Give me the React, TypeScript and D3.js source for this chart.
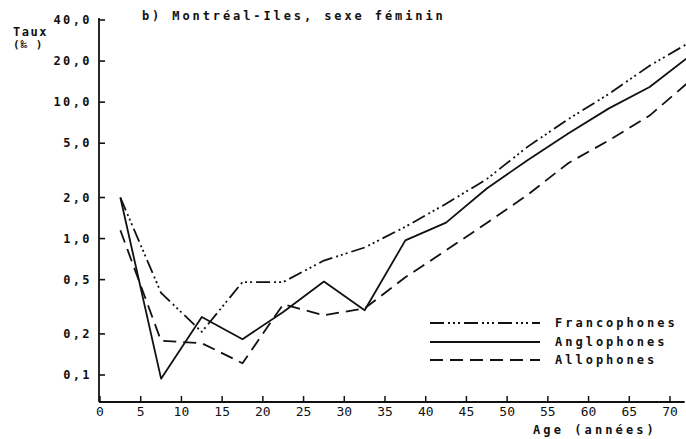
import React from "react";
import * as d3 from "d3";

const ages = [2.5, 7.5, 12.5, 17.5, 22.5, 27.5, 32.5, 37.5, 42.5, 47.5, 52.5, 57.5, 62.5, 67.5, 72.5];
const francophones = [2.0, 0.4, 0.207, 0.48, 0.48, 0.69, 0.86, 1.22, 1.8, 2.73, 4.7, 7.5, 11.5, 18.5, 27.6];
const anglophones = [2.0, 0.094, 0.266, 0.183, 0.29, 0.484, 0.298, 0.97, 1.31, 2.33, 3.75, 5.9, 9.0, 12.9, 22];
const allophones = [1.15, 0.178, 0.171, 0.122, 0.33, 0.274, 0.308, 0.52, 0.82, 1.3, 2.09, 3.57, 5.25, 7.97, 14.4];

const yTicks = [0.1, 0.2, 0.5, 1, 2, 5, 10, 20, 40];
const yTickLabels = ["0,1", "0,2", "0,5", "1,0", "2,0", "5,0", "10,0", "20,0", "40,0"];
const xTicks = [0, 5, 10, 15, 20, 25, 30, 35, 40, 45, 50, 55, 60, 65, 70];

const seriesNames = ["Francophones", "Anglophones", "Allophones"];
const seriesData = [francophones, anglophones, allophones];
const dashes = ["14 4 2 3 2 3 2 4", "none", "13 7"];

const title = "b) Montréal-Iles, sexe féminin";
const xTitle = "Age (années)";

const W = 686;
const H = 439;
const axisY = 402;
const axisX = 99;

const FONT = "'DejaVu Sans Mono', 'Liberation Mono', monospace";
const INK = "#111";

export default function App() {
  const x = d3.scaleLinear().domain([0, 70]).range([100, 670]);
  const y = d3.scaleLog().domain([0.1, 40]).range([375, 20]);
  const line = d3
    .line<number>()
    .x((_, i) => x(ages[i]))
    .y((d) => y(d));

  const legendY = [323, 342, 360];

  return (
    <svg
      width={W}
      height={H}
      style={{ position: "absolute", left: 0, top: 0, background: "#fff" }}
    >
      <rect width={W} height={H} fill="#fff" />
      {/* axes */}
      <line x1={axisX} x2={axisX} y1={y(40) - 2} y2={axisY} stroke={INK} strokeWidth={1.8} />
      <line x1={axisX} x2={x(71.8)} y1={axisY} y2={axisY} stroke={INK} strokeWidth={1.8} />
      {yTicks.map((t, i) => (
        <g key={"y" + t}>
          <line x1={axisX} x2={axisX + 6} y1={y(t)} y2={y(t)} stroke={INK} strokeWidth={1.6} />
          <text
            x={92}
            y={y(t)}
            dy="0.35em"
            textAnchor="end"
            fontFamily={FONT}
            fontWeight="bold"
            fontSize={12}
            letterSpacing={2.4}
            fill={INK}
          >
            {yTickLabels[i]}
          </text>
        </g>
      ))}
      {xTicks.map((t) => (
        <g key={"x" + t}>
          <line x1={x(t)} x2={x(t)} y1={axisY} y2={axisY - 6} stroke={INK} strokeWidth={1.5} />
          <text
            x={x(t)}
            y={axisY + 9}
            dy="0.35em"
            textAnchor="middle"
            fontFamily={FONT}
            fontSize={13}
            fill={INK}
          >
            {t}
          </text>
        </g>
      ))}
      <text x={13} y={32} dy="0.35em" fontFamily={FONT} fontWeight="bold" fontSize={12} letterSpacing={1.5} fill={INK}>
        Taux
      </text>
      <text x={13} y={44} dy="0.35em" fontFamily={FONT} fontWeight="bold" fontSize={11} letterSpacing={1} fill={INK}>
        (‰ )
      </text>
      <text x={142} y={16} dy="0.35em" fontFamily={FONT} fontWeight="bold" fontSize={12} letterSpacing={2.9} fill={INK}>
        {title}
      </text>
      <text x={533} y={430} dy="0.35em" fontFamily={FONT} fontWeight="bold" fontSize={12} letterSpacing={3.1} fill={INK}>
        {xTitle}
      </text>
      {/* series */}
      {seriesData.map((s, i) => (
        <path
          key={seriesNames[i]}
          d={line(s) || ""}
          fill="none"
          stroke={INK}
          strokeWidth={1.8}
          strokeDasharray={dashes[i]}
          strokeLinejoin="round"
        />
      ))}
      {/* legend */}
      {seriesNames.map((n, i) => (
        <g key={"leg" + n}>
          <line
            x1={430}
            x2={540}
            y1={legendY[i]}
            y2={legendY[i]}
            stroke={INK}
            strokeWidth={1.8}
            strokeDasharray={dashes[i]}
          />
          <text
            x={555}
            y={legendY[i]}
            dy="0.35em"
            fontFamily={FONT}
            fontWeight="bold"
            fontSize={12}
            letterSpacing={3}
            fill={INK}
          >
            {n}
          </text>
        </g>
      ))}
    </svg>
  );
}
